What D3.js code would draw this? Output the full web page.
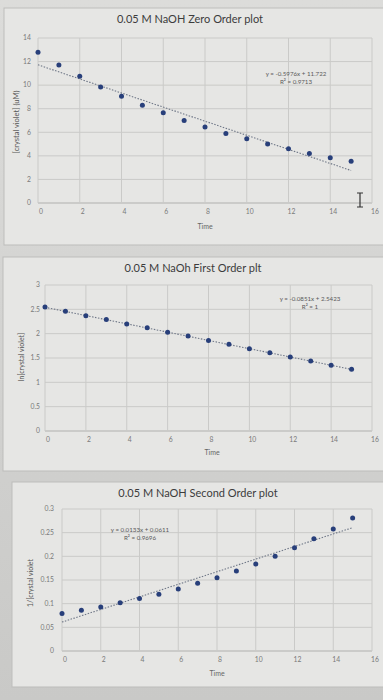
<!DOCTYPE html>
<html><head><meta charset="utf-8">
<script src="https://cdn.jsdelivr.net/npm/d3@7"></script>
<style>body{margin:0;background:#d6d6d4;} svg{display:block}</style>
</head><body><svg id="c" width="383" height="700"></svg>
<script>
// ---- data ----
const time = [0,1,2,3,4,5,6,7,8,9,10,11,12,13,14,15];
const zeroOrder = [12.8,11.7,10.75,9.85,9.05,8.3,7.65,7.0,6.45,5.9,5.45,5.0,4.6,4.2,3.85,3.55];
const firstOrder = [2.55,2.46,2.37,2.29,2.2,2.12,2.03,1.95,1.86,1.78,1.69,1.61,1.52,1.44,1.35,1.27];
const secondOrder = [0.079,0.086,0.093,0.102,0.111,0.12,0.131,0.143,0.155,0.169,0.184,0.2,0.218,0.237,0.258,0.281];
const xTicks = [0,2,4,6,8,10,12,14,16];
const zeroTicks = [0,2,4,6,8,10,12,14];
const firstTicks = [0,0.5,1,1.5,2,2.5,3];
const firstTickLabels = ["0","0.5","1","1.5","2","2.5","3"];
const secondTicks = [0,0.05,0.1,0.15,0.2,0.25,0.3];
const secondTickLabels = ["0","0.05","0.1","0.15","0.2","0.25","0.3"];
const titles = ["0.05 M NaOH Zero Order plot","0.05 M NaOh First Order plt","0.05 M NaOH Second Order plot"];
const yTitles = ["[crystal violet] (uM)","ln[crystal violet]","1/[crystal violet"];
const fits = [{m:-0.5976,b:11.722,eq:"y = -0.5976x + 11.722",r2:"R\u00b2 = 0.9713"},
              {m:-0.0851,b:2.5423,eq:"y = -0.0851x + 2.5423",r2:"R\u00b2 = 1"},
              {m:0.0133,b:0.0611,eq:"y = 0.0133x + 0.0611",r2:"R\u00b2 = 0.9696"}];

// ---- layout ----
const layouts = [
 {frame:[4,8,420,237], x0:38,x1:372, yTop:38,yBot:203, yMax:14, ticks:zeroTicks, labels:zeroTicks.map(String), yLabX:31,
  titleX:190,titleY:23, timeX:205,timeY:229, yTitleX:19,yTitleY:122, yTitleSize:7.5, eqX:296,eqY:76, values:zeroOrder},
 {frame:[3,257,420,214], x0:45,x1:372, yTop:285,yBot:431, yMax:3, ticks:firstTicks, labels:firstTickLabels, yLabX:40,
  titleX:193,titleY:272, timeX:212,timeY:455, yTitleX:24,yTitleY:357, yTitleSize:7, eqX:310,eqY:301, values:firstOrder},
 {frame:[12,482,420,205], x0:62,x1:372, yTop:509,yBot:651, yMax:0.3, ticks:secondTicks, labels:secondTickLabels, yLabX:54,
  titleX:198,titleY:497, timeX:217,timeY:676, yTitleX:33,yTitleY:583, yTitleSize:7, eqX:140,eqY:532, values:secondOrder}
];

const svg = d3.select("#c");
const defs = svg.append("defs");
const g0 = defs.append("linearGradient").attr("id","bg").attr("x1",0).attr("y1",0).attr("x2",0).attr("y2",1);
g0.append("stop").attr("offset","0%").attr("stop-color","#dcdcda");
g0.append("stop").attr("offset","100%").attr("stop-color","#c9c9c7");
svg.append("rect").attr("width",383).attr("height",700).attr("fill","url(#bg)");

layouts.forEach((L,i)=>{
  const g = svg.append("g");
  g.append("rect").attr("x",L.frame[0]).attr("y",L.frame[1]).attr("width",L.frame[2]).attr("height",L.frame[3])
    .attr("fill","#e6e6e4").attr("stroke","#bdbdbb").attr("stroke-width",1);
  const x = d3.scaleLinear().domain([0,16]).range([L.x0,L.x1]);
  const y = d3.scaleLinear().domain([0,L.yMax]).range([L.yBot,L.yTop]);
  // gridlines
  g.append("g").selectAll("line").data(L.ticks).join("line")
    .attr("x1",L.x0).attr("x2",L.x1).attr("y1",d=>y(d)).attr("y2",d=>y(d))
    .attr("stroke",(d)=>d===0?"#b0b0ae":"#cacac8").attr("stroke-width",1);
  g.append("g").selectAll("line").data(xTicks).join("line")
    .attr("x1",d=>x(d)).attr("x2",d=>x(d)).attr("y1",L.yTop).attr("y2",L.yBot)
    .attr("stroke","#cacac8").attr("stroke-width",1);
  // tick labels
  g.append("g").selectAll("text").data(L.ticks).join("text")
    .attr("x",L.yLabX).attr("y",d=>y(d)+2.3).attr("text-anchor","end")
    .attr("font-family","Lato, sans-serif").attr("font-size",6.8).attr("fill","#7a7a7a")
    .text((d,j)=>L.labels[j]);
  g.append("g").selectAll("text").data(xTicks).join("text")
    .attr("x",d=>x(d)+3).attr("y",L.yBot+11).attr("text-anchor","middle")
    .attr("font-family","Lato, sans-serif").attr("font-size",6.8).attr("fill","#7a7a7a")
    .text(d=>d);
  // titles
  g.append("text").attr("x",L.titleX).attr("y",L.titleY).attr("text-anchor","middle")
    .attr("font-family","Lato, sans-serif").attr("font-size",11).attr("fill","#3c3c3c").text(titles[i]);
  g.append("text").attr("x",L.timeX).attr("y",L.timeY).attr("text-anchor","middle")
    .attr("font-family","Lato, sans-serif").attr("font-size",7).attr("fill","#666").text("Time");
  g.append("text").attr("transform",`translate(${L.yTitleX},${L.yTitleY}) rotate(-90)`).attr("text-anchor","middle")
    .attr("font-family","Lato, sans-serif").attr("font-size",L.yTitleSize).attr("fill","#555").text(yTitles[i]);
  // trendline
  const f = fits[i];
  g.append("line").attr("x1",x(0)).attr("y1",y(f.b)).attr("x2",x(15)).attr("y2",y(f.b+f.m*15))
    .attr("stroke","#6f7787").attr("stroke-width",1.1).attr("stroke-dasharray","1.5,1.5");
  // points
  g.append("g").selectAll("circle").data(L.values).join("circle")
    .attr("cx",(d,j)=>x(time[j])).attr("cy",d=>y(d)).attr("r",2.5).attr("fill","#283f7a");
  // equation
  g.append("text").attr("x",L.eqX).attr("y",L.eqY).attr("text-anchor","middle")
    .attr("font-family","Lato, sans-serif").attr("font-size",6.2).attr("fill","#5a5a5a").text(f.eq);
  g.append("text").attr("x",L.eqX).attr("y",L.eqY+8).attr("text-anchor","middle")
    .attr("font-family","Lato, sans-serif").attr("font-size",6.2).attr("fill","#5a5a5a").text(f.r2);
});
// text cursor (I-beam) visible in the first chart
svg.append("path").attr("d","M357,193 h6 M360,193 v14 M357,207 h6")
  .attr("stroke","#333").attr("stroke-width",1.2).attr("fill","none");
</script></body></html>
